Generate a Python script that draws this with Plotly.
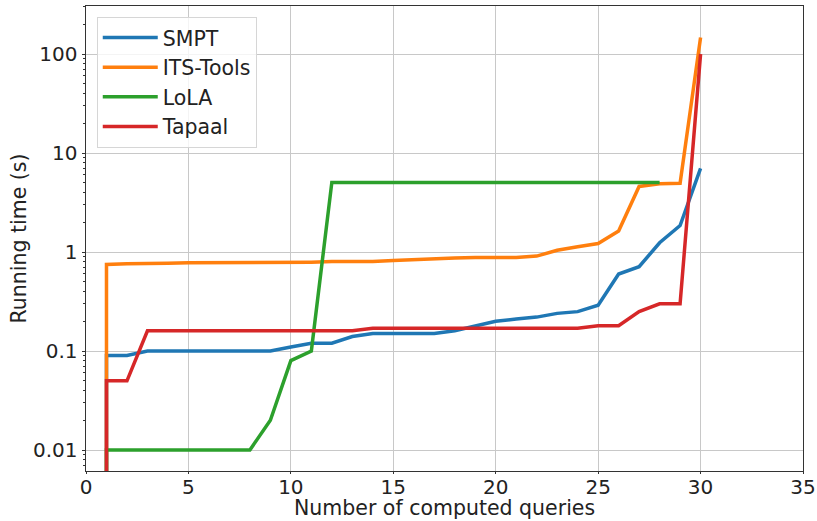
import plotly.graph_objects as go

x_vals = list(range(1, 31))
# first point (x=1) is a near-zero start value, drawn below the visible range
start_val = 1e-5

smpt = [0.09, 0.09, 0.10, 0.10, 0.10, 0.10, 0.10, 0.10, 0.10, 0.11,
        0.12, 0.12, 0.14, 0.15, 0.15, 0.15, 0.15, 0.16, 0.18, 0.20,
        0.21, 0.22, 0.24, 0.25, 0.29, 0.60, 0.71, 1.24, 1.85, 7.0]
its_tools = [0.75, 0.76, 0.76, 0.77, 0.78, 0.78, 0.78, 0.78, 0.78, 0.79,
             0.79, 0.80, 0.80, 0.80, 0.82, 0.84, 0.86, 0.87, 0.88, 0.88,
             0.88, 0.91, 1.04, 1.13, 1.22, 1.63, 4.6, 4.9, 4.95, 147]
lola = [0.01, 0.01, 0.01, 0.01, 0.01, 0.01, 0.01, 0.01, 0.02, 0.08,
        0.10, 5.05, 5.05, 5.05, 5.05, 5.05, 5.05, 5.05, 5.05, 5.05,
        5.05, 5.05, 5.05, 5.05, 5.05, 5.05, 5.05, 5.05]
tapaal = [0.05, 0.05, 0.16, 0.16, 0.16, 0.16, 0.16, 0.16, 0.16, 0.16,
          0.16, 0.16, 0.16, 0.17, 0.17, 0.17, 0.17, 0.17, 0.17, 0.17,
          0.17, 0.17, 0.17, 0.17, 0.18, 0.18, 0.25, 0.30, 0.30, 100]

series = [("SMPT", smpt, "#1f77b4"),
          ("ITS-Tools", its_tools, "#ff7f0e"),
          ("LoLA", lola, "#2ca02c"),
          ("Tapaal", tapaal, "#d62728")]

y_tickvals = [0.01, 0.1, 1, 10, 100]
y_ticktext = ["0.01", "0.1", "1", "10", "100"]
x_tickvals = [0, 5, 10, 15, 20, 25, 30, 35]
x_title = "Number of computed queries"
y_title = "Running time (s)"

minor_vals = [m * 10 ** e for e in range(-3, 3) for m in range(2, 10)]

fig = go.Figure()
for name, vals, color in series:
    xs = [1] + x_vals[:len(vals)]
    ys = [start_val] + vals
    fig.add_trace(go.Scatter(x=xs, y=ys, mode="lines", name=name,
                             line=dict(color=color, width=3.5)))

axis_common = dict(showline=True, linecolor="#333333", linewidth=1, mirror=True,
                   ticks="outside", tickcolor="#333333",
                   showgrid=True, gridcolor="#c8c8c8", gridwidth=1,
                   zeroline=False, automargin=False,
                   tickfont=dict(size=20, color="#222222"))

fig.update_xaxes(range=[0, 35], tickvals=x_tickvals, ticklen=2, ticklabelstandoff=-4,
                 **axis_common)
fig.update_yaxes(type="log", range=[-2.212, 2.485], tickvals=y_tickvals, ticktext=y_ticktext,
                 ticklen=3.5,
                 title=dict(text=y_title, font=dict(size=20.5, color="#222222"), standoff=0),
                 minor=dict(tickmode="array", tickvals=minor_vals, ticks="outside", ticklen=2.5,
                            tickcolor="#333333", showgrid=False),
                 **axis_common)

fig.add_annotation(text=x_title, xref="paper", yref="paper", x=0.5, y=-0.079,
                   xanchor="center", yanchor="middle", showarrow=False, borderpad=0,
                   font=dict(size=20.5, color="#222222"))

fig.update_layout(
    width=817, height=521,
    margin=dict(l=86, r=14, t=6, b=50, autoexpand=False),
    plot_bgcolor="white", paper_bgcolor="white",
    font=dict(family="DejaVu Sans", color="#222222"),
    legend=dict(x=0.015, y=0.977, xanchor="left", yanchor="top",
                bgcolor="rgba(255,255,255,0.8)", bordercolor="#d6d6d6", borderwidth=1,
                font=dict(size=20.5), itemwidth=55, tracegroupgap=0),
    showlegend=True,
)

fig.write_html("out.html", post_script="document.body.style.margin='0';",
               config={"displayModeBar": False})
